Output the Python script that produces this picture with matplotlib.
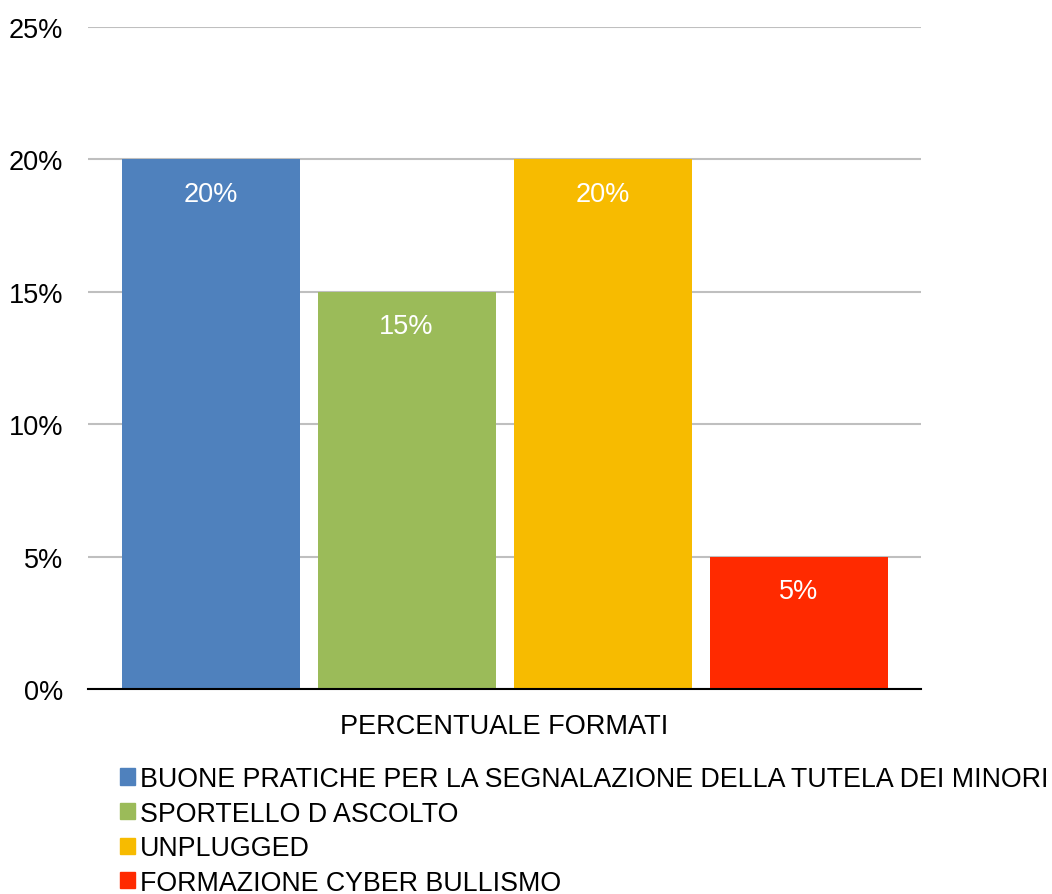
import numpy as np
import matplotlib.pyplot as plt
from matplotlib.patches import Patch

plt.rcParams['font.family'] = ['Liberation Sans', 'DejaVu Sans']

categories = ['BUONE PRATICHE PER LA SEGNALAZIONE DELLA TUTELA DEI MINORI',
              'SPORTELLO D ASCOLTO',
              'UNPLUGGED',
              'FORMAZIONE CYBER BULLISMO']
values = [20, 15, 20, 5]
colors = ['#4F81BD', '#9BBB59', '#F7BB00', '#FF2A00']
yticks = [0, 5, 10, 15, 20, 25]

fig = plt.figure(figsize=(10.52, 8.95), dpi=100)
ax = fig.add_axes([88/1052, 1 - 690/895, 833/1052, 662/895])

step = 196/833
width = 178/833
offsets = (np.arange(len(values)) - 1.5) * step
bars = ax.bar(offsets, values, width=width, color=colors, zorder=3)

for b, v in zip(bars, values):
    ax.text(b.get_x() + b.get_width()/2, v - 0.8, f'{v}%', ha='center', va='top',
            color='white', fontsize=19.5, zorder=4)

ax.set_xlim(-0.5, 0.5)
ax.set_ylim(0, 25)
ax.set_yticks(yticks)
ax.set_yticklabels([f'{t}%' for t in yticks], fontsize=19.5)
ax.yaxis.grid(True, color='#BFBFBF', linewidth=1.5, zorder=0)
ax.tick_params(axis='y', length=0, pad=18)
ax.set_xticks([])
ax.set_xlabel('PERCENTUALE FORMATI', fontsize=19.5, labelpad=17)
for s in ['top', 'right', 'left']:
    ax.spines[s].set_visible(False)
ax.spines['bottom'].set_linewidth(1.5)
ax.spines['bottom'].set_zorder(5)

handles = [Patch(color=c) for c in colors]
fig.legend(handles, categories, loc='upper left', bbox_to_anchor=(120/1052, 1 - 767/895),
           frameon=False, fontsize=19.3, handlelength=0.56, handleheight=0.56,
           handletextpad=0.18, labelspacing=0.32, borderaxespad=0, borderpad=0)

fig.savefig('out.png', dpi=100)
